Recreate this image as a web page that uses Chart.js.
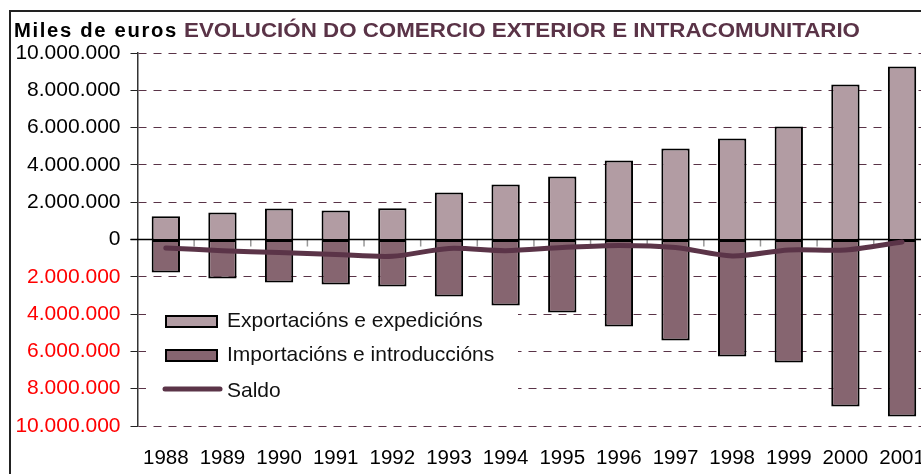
<!DOCTYPE html>
<html>
<head>
<meta charset="utf-8">
<script src="https://cdn.jsdelivr.net/npm/chart.js@4.4.1/dist/chart.umd.min.js"></script>
<style>
    html, body { margin: 0; padding: 0; background: #fff; overflow: hidden; }
    #wrap { width: 921px; height: 474px; overflow: hidden; position: relative; }
    #wrap canvas { position: absolute; left: 0; top: 0; }
</style>
</head>
<body>
<div id="wrap"><canvas id="evoChart" width="945" height="474" style="width:945px;height:474px"></canvas></div>
<script>
const years = ["1988", "1989", "1990", "1991", "1992", "1993", "1994", "1995", "1996", "1997", "1998", "1999", "2000", "2001"];
const exportacions = [1250000, 1450000, 1660000, 1560000, 1670000, 2520000, 2950000, 3380000, 4230000, 4880000, 5420000, 6060000, 8310000, 9280000];
const importacions = [-1770000, -2090000, -2310000, -2410000, -2520000, -3060000, -3540000, -3910000, -4660000, -5420000, -6270000, -6600000, -8950000, -9490000];
const saldo = [-450000, -600000, -700000, -800000, -900000, -480000, -600000, -430000, -320000, -430000, -880000, -560000, -560000, -130000];

const seriesNames = ["Exportacións e expedicións", "Importacións e introduccións", "Saldo"];
const unitLabel = "Miles de euros";
const chartTitle = "EVOLUCIÓN DO COMERCIO EXTERIOR E INTRACOMUNITARIO";

const FONT = '"Liberation Sans", Arial, sans-serif';
const colExp = "#b29ca3";
const colImp = "#866570";
const colSaldo = "#5b3448";
const colGrid = "#5a3347";

function fmt(v) {
    return String(Math.abs(v)).replace(/\B(?=(\d{3})+(?!\d))/g, ".");
}

// solid zero line, category ticks and the legend box (under the bars)
const underlay = {
    id: "underlay",
    beforeDatasetsDraw(chart) {
        const {ctx, chartArea} = chart;
        const y0 = chart.scales.y.getPixelForValue(0);
        const x = chart.scales.x;
        ctx.save();
        ctx.strokeStyle = "#999";
        ctx.lineWidth = 1.5;
        for (let i = 1; i < years.length; i++) {
            const bx = (x.getPixelForValue(i - 1) + x.getPixelForValue(i)) / 2;
            ctx.beginPath();
            ctx.moveTo(bx, y0);
            ctx.lineTo(bx, y0 + 7);
            ctx.stroke();
        }
        ctx.strokeStyle = "#000";
        ctx.beginPath();
        ctx.moveTo(chartArea.left - 7, y0);
        ctx.lineTo(chartArea.right, y0);
        ctx.stroke();

        ctx.fillStyle = "#fff";
        ctx.fillRect(146, 298, 372, 108);

        ctx.font = "21px " + FONT;
        ctx.textBaseline = "alphabetic";
        ctx.textAlign = "left";
        const sw = [[colExp, 316, 327], [colImp, 350, 361]];
        sw.forEach((s, i) => {
            ctx.fillStyle = s[0];
            ctx.fillRect(166, s[1], 51, 11);
            ctx.strokeStyle = "#000";
            ctx.lineWidth = 2;
            ctx.strokeRect(166, s[1], 51, 11);
            ctx.fillStyle = "#111";
            ctx.fillText(seriesNames[i], 227, s[2]);
        });
        ctx.strokeStyle = colSaldo;
        ctx.lineWidth = 5;
        ctx.lineCap = "round";
        ctx.beginPath();
        ctx.moveTo(165, 389);
        ctx.lineTo(220, 389);
        ctx.stroke();
        ctx.fillStyle = "#111";
        ctx.fillText(seriesNames[2], 227, 397);
        ctx.restore();
    }
};

// titles and frame
const decor = {
    id: "decor",
    afterDraw(chart) {
        const ctx = chart.ctx;
        ctx.save();
        ctx.strokeStyle = "#222";
        ctx.lineWidth = 2;
        ctx.beginPath();
        ctx.moveTo(10, 474);
        ctx.lineTo(10, 11);
        ctx.lineTo(945, 11);
        ctx.stroke();

        ctx.textAlign = "left";
        ctx.textBaseline = "alphabetic";
        ctx.fillStyle = "#000";
        ctx.font = "bold 19.5px " + FONT;
        if ("letterSpacing" in ctx) ctx.letterSpacing = "1.6px";
        const uw = ctx.measureText(unitLabel).width;
        ctx.save();
        ctx.translate(14, 37);
        ctx.scale(164 / uw, 1);
        ctx.fillText(unitLabel, 0, 0);
        ctx.restore();
        if ("letterSpacing" in ctx) ctx.letterSpacing = "0px";

        ctx.font = "bold 21px " + FONT;
        const w = ctx.measureText(chartTitle).width;
        ctx.translate(184, 37);
        ctx.scale(676 / w, 1);
        ctx.fillStyle = colGrid;
        ctx.fillText(chartTitle, 0, 0);
        ctx.restore();
    }
};

const ctx = document.getElementById("evoChart").getContext("2d");
new Chart(ctx, {
    type: "bar",
    data: {
        labels: years,
        datasets: [
            {
                type: "line",
                label: seriesNames[2],
                data: saldo,
                borderColor: colSaldo,
                borderWidth: 5,
                borderCapStyle: "round",
                pointRadius: 0,
                tension: 0.3,
                fill: false,
                order: 0
            },
            {
                label: seriesNames[0],
                data: exportacions,
                backgroundColor: colExp,
                borderColor: "#000",
                borderWidth: 2,
                borderSkipped: "bottom",
                stack: "s",
                barPercentage: 0.5,
                categoryPercentage: 1,
                order: 1
            },
            {
                label: seriesNames[1],
                data: importacions,
                backgroundColor: colImp,
                borderColor: "#000",
                borderWidth: 2,
                borderSkipped: false,
                stack: "s",
                barPercentage: 0.5,
                categoryPercentage: 1,
                order: 1
            }
        ]
    },
    options: {
        responsive: false,
        animation: false,
        layout: { padding: { left: 0, top: 53, right: 4, bottom: 0 } },
        plugins: {
            legend: { display: false },
            title: { display: false },
            tooltip: { enabled: false }
        },
        scales: {
            x: {
                stacked: true,
                offset: true,
                grid: { display: false, drawTicks: false },
                border: { display: false },
                ticks: { color: "#000", font: { family: FONT, size: 20.5 }, padding: 20, maxRotation: 0 },
                afterFit: s => { s.height = 48; }
            },
            y: {
                stacked: true,
                min: -10000000,
                max: 10000000,
                border: { display: true, color: "#333", width: 1.5, dash: [8, 7] },
                grid: {
                    color: c => c.tick && c.tick.value === 0 ? "rgba(0,0,0,0)" : colGrid,
                    lineWidth: 1,
                    tickLength: 7,
                    tickColor: "#222"
                },
                ticks: {
                    stepSize: 2000000,
                    padding: 10,
                    font: { family: FONT, size: 21 },
                    color: c => c.tick && c.tick.value < 0 ? "#ff0000" : "#000",
                    callback: v => fmt(v)
                },
                afterFit: s => { s.width = 137.5; }
            }
        }
    },
    plugins: [underlay, decor]
});
</script>
</body>
</html>
